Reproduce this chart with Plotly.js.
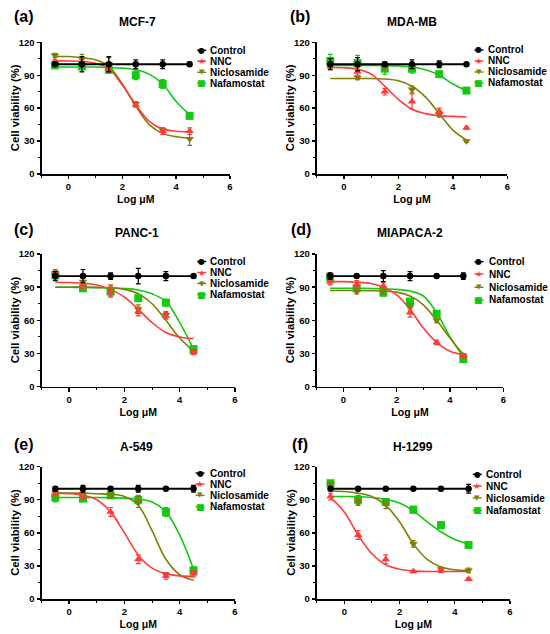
<!DOCTYPE html>
<html>
<head>
<meta charset="utf-8">
<script src="https://cdn.plot.ly/plotly-3.0.1.min.js"></script>
<style>
html,body{margin:0;padding:0;background:#fff;}
#chart{width:550px;height:634px;}
</style>
</head>
<body>
<div id="chart"></div>
<script>
// ---------------- DATA ----------------
const doses = [-0.5, 0.5, 1.5, 2.5, 3.5, 4.5];          // Log µM of measured points
const fitX  = [-0.5, 0, 0.5, 1, 1.5, 2, 2.5, 3, 3.5, 4, 4.5]; // where fitted curves were read
const drugs = ['Control', 'NNC', 'Niclosamide', 'Nafamostat'];
const cellLines = ['MCF-7', 'MDA-MB', 'PANC-1', 'MIAPACA-2', 'A-549', 'H-1299'];
const panelLetters = ['(a)', '(b)', '(c)', '(d)', '(e)', '(f)'];
const xTickVals = [0, 2, 4, 6];
const yTickVals = [0, 30, 60, 90, 120];
const xTitle = 'Log \u03BCM';
const yTitle = 'Cell viability (%)';

// (a) MCF-7
const mcf7Control = [100, 100, 100, 100, 100, 100];
const mcf7ControlErr = [2, 7, 7, 4, 4, 2];
const mcf7NNC = [102, 101, 96, 63, 39, 39];
const mcf7NNCErr = [2, 3, 3, 2, 3, 3];
const mcf7Nic = [108, 105, 100, 64, 40, 32];
const mcf7NicErr = [2, 4, 6, 2, 2, 6];
const mcf7Naf = [99, 98, 95, 90, 82, 53];
const mcf7NafErr = [2, 3, 3, 4, 4, 3];
const mcf7NNCFit = [103, 103, 102.5, 101, 96, 81, 63, 48, 41, 39, 38.5];
const mcf7NicFit = [107, 107, 106, 104, 98, 82, 62, 45, 37, 34, 33];
const mcf7NafFit = [97.5, 97.5, 97.5, 97.5, 97, 96.5, 95, 91, 82, 66, 54];

// (b) MDA-MB
const mdaControl = [100, 100, 100, 100, 100, 100];
const mdaControlErr = [5, 6, 2, 4, 3, 1];
const mdaNNC = [98, 93, 75, 66, 57, 42];
const mdaNNCErr = [3, 4, 3, 7, 3, 1];
const mdaNic = [98, 88, 97, 77, 54, 30];
const mdaNicErr = [2, 2, 2, 3, 2, 1];
const mdaNaf = [103, 101, 96, 96, 91, 76];
const mdaNafErr = [6, 7, 5, 4, 2, 2];
const mdaNNCFit = [97, 96.8, 95.5, 91, 80, 68, 59, 55, 53, 52.5, 52];
const mdaNicFit = [87, 87, 87, 87, 86.5, 85, 80, 70, 55, 40, 31];
const mdaNafFit = [99, 99, 99, 99, 98.8, 98.5, 97.5, 95, 90, 82, 76];

// (c) PANC-1
const pancControl = [100, 100, 100, 100, 100, 100];
const pancControlErr = [4, 6, 3, 7, 4, 1];
const pancNNC = [103, 92, 86, 68, 64, 31];
const pancNNCErr = [3, 3, 5, 4, 3, 2];
const pancNic = [101, 95, 87, 70, 65, 32];
const pancNicErr = [3, 3, 5, 4, 3, 2];
const pancNaf = [101, 89, 86, 80, 76, 34];
const pancNafErr = [4, 2, 4, 2, 3, 2];
const pancNNCFit = [94.5, 94.2, 93.5, 92, 88, 81, 70, 58, 49, 45, 43.5];
const pancNicFit = [90, 90, 90, 89.8, 89.5, 88, 84, 75, 60, 44, 32];
const pancNafFit = [90, 89.9, 89.8, 89.6, 89.3, 88.8, 87.5, 84, 77, 58, 34];

// (d) MIAPACA-2
const miaControl = [100, 100, 100, 100, 100, 100];
const miaControlErr = [3, 1, 5, 4, 1, 3];
const miaNNC = [95, 92, 91, 67, 40, 28];
const miaNNCErr = [3, 4, 3, 4, 2, 2];
const miaNic = [100, 86, 86, 72, 60, 28];
const miaNicErr = [3, 2, 2, 3, 2, 2];
const miaNaf = [99, 89, 85, 77, 66, 25];
const miaNafErr = [3, 2, 3, 2, 2, 2];
const miaNNCFit = [95, 95, 94.5, 93.5, 90, 83, 70, 53, 40, 32, 29];
const miaNicFit = [87, 87, 87, 86.8, 86.5, 85.5, 82, 74, 60, 44, 29];
const miaNafFit = [89, 89, 89, 88.8, 88.6, 88, 86.5, 82, 67, 45, 27];

// (e) A-549
const a549Control = [100, 100, 100, 100, 100, 100];
const a549ControlErr = [2, 3, 2, 3, 1, 3];
const a549NNC = [95, 93, 79, 36, 21, 23];
const a549NNCErr = [3, 2, 4, 4, 3, 3];
const a549Nic = [96, 95, 94, 88, 22, 24];
const a549NicErr = [2, 2, 2, 5, 2, 2];
const a549Naf = [92, 91, 94, 90, 79, 26];
const a549NafErr = [4, 2, 2, 4, 4, 3];
const a549NNCFit = [96, 95.5, 94, 90, 79, 60, 40, 28, 23, 21, 20.5];
const a549NicFit = [96, 96, 96, 95.5, 95, 93, 85, 62, 36, 22, 17];
const a549NafFit = [92, 92, 92, 92, 91.8, 91.5, 90.5, 88, 79, 58, 27];

// (f) H-1299
const h1299Control = [100, 100, 100, 100, 100, 100];
const h1299ControlErr = [1, 1, 1, 1, 1, 4];
const h1299NNC = [93, 58, 36, 25, 26, 18];
const h1299NNCErr = [3, 4, 4, 1, 2, 1];
const h1299Nic = [104, 88, 86, 50, 27, 26];
const h1299NicErr = [2, 3, 4, 3, 2, 2];
const h1299Naf = [105, 90, 88, 81, 67, 49];
const h1299NafErr = [2, 4, 3, 3, 3, 2];
const h1299NNCFit = [92, 79, 58, 41, 31, 27, 25.5, 25, 25, 25, 25];
const h1299NicFit = [98, 97.5, 96, 93, 85, 70, 50, 36, 29, 26.5, 25.5];
const h1299NafFit = [93, 93, 92.8, 92, 90.5, 87, 80, 70, 61, 54, 50];

// --------------- STYLE / LAYOUT ---------------
const W = 550, H = 634;
const FONT = 'Liberation Sans, Arial, sans-serif';
const colors = {Control: '#000000', NNC: '#FF3B3B', Niclosamide: '#7F7F05', Nafamostat: '#14C814'};
const symbols = {Control: 'circle', NNC: 'triangle-up', Niclosamide: 'triangle-down', Nafamostat: 'square'};
const sizes = {Control: 6.5, NNC: 7.5, Niclosamide: 7.5, Nafamostat: 8};
const glyphs = {Control: '\u25CF', NNC: '\u2605', Niclosamide: '\u25BC', Nafamostat: '\u25A0'};
const glyphSize = {Control: 8, NNC: 8.5, Niclosamide: 7, Nafamostat: 9};

const panelData = [
  {ctl: mcf7Control, ctlE: mcf7ControlErr, nnc: mcf7NNC, nncE: mcf7NNCErr, nic: mcf7Nic, nicE: mcf7NicErr, naf: mcf7Naf, nafE: mcf7NafErr, nncF: mcf7NNCFit, nicF: mcf7NicFit, nafF: mcf7NafFit},
  {ctl: mdaControl, ctlE: mdaControlErr, nnc: mdaNNC, nncE: mdaNNCErr, nic: mdaNic, nicE: mdaNicErr, naf: mdaNaf, nafE: mdaNafErr, nncF: mdaNNCFit, nicF: mdaNicFit, nafF: mdaNafFit},
  {ctl: pancControl, ctlE: pancControlErr, nnc: pancNNC, nncE: pancNNCErr, nic: pancNic, nicE: pancNicErr, naf: pancNaf, nafE: pancNafErr, nncF: pancNNCFit, nicF: pancNicFit, nafF: pancNafFit},
  {ctl: miaControl, ctlE: miaControlErr, nnc: miaNNC, nncE: miaNNCErr, nic: miaNic, nicE: miaNicErr, naf: miaNaf, nafE: miaNafErr, nncF: miaNNCFit, nicF: miaNicFit, nafF: miaNafFit},
  {ctl: a549Control, ctlE: a549ControlErr, nnc: a549NNC, nncE: a549NNCErr, nic: a549Nic, nicE: a549NicErr, naf: a549Naf, nafE: a549NafErr, nncF: a549NNCFit, nicF: a549NicFit, nafF: a549NafFit},
  {ctl: h1299Control, ctlE: h1299ControlErr, nnc: h1299NNC, nncE: h1299NNCErr, nic: h1299Nic, nicE: h1299NicErr, naf: h1299Naf, nafE: h1299NafErr, nncF: h1299NNCFit, nicF: h1299NicFit, nafF: h1299NafFit}
];

// panel geometry in pixels (plot area), legend placement, title placement
const panels = [
  {xL: 41.5, xR: 230,   yT: 42.3, yB: 174,   mx: 201.7, tx: 209,   rows: [50.3, 61.3, 72.3, 83.3],   lx: 12,  ly: 16.5, tcx: 137,   tcy: 22,    ytx: 15},
  {xL: 316.7, xR: 507.3, yT: 42.3, yB: 174,  mx: 479,   tx: 486.5, rows: [50, 61, 72, 83],           lx: 287.5, ly: 16.5, tcx: 411.7, tcy: 22,  ytx: 290},
  {xL: 41.5, xR: 235,   yT: 254,  yB: 386.7, mx: 201.7, tx: 209,   rows: [261.5, 272.5, 283.5, 294.5], lx: 12, ly: 229.5, tcx: 136.7, tcy: 233.3, ytx: 15},
  {xL: 316.7, xR: 503.3, yT: 254,  yB: 386.7, mx: 479,  tx: 487.5, rows: [261.7, 274, 287.3, 300],    lx: 289, ly: 229.5, tcx: 410,   tcy: 233.3, ytx: 290},
  {xL: 41.5, xR: 235,   yT: 466.7, yB: 599,  mx: 200,   tx: 209,   rows: [473, 484.2, 495.4, 506.6], lx: 12, ly: 444.5, tcx: 136.7, tcy: 446.7, ytx: 15},
  {xL: 316.7, xR: 510,  yT: 466.7, yB: 599,  mx: 477.3, tx: 485,   rows: [474.3, 486, 498, 510.3],    lx: 290, ly: 444.5, tcx: 413.3, tcy: 446.7, ytx: 291}
];

const traces = [];
const annotations = [];
const shapes = [];
const layout = {
  width: W, height: H,
  margin: {l: 0, r: 0, t: 0, b: 0},
  paper_bgcolor: '#ffffff', plot_bgcolor: '#ffffff',
  showlegend: false,
  font: {family: FONT, color: '#000'},
  annotations: annotations,
  shapes: shapes
};

function px2x(p) { return p / W; }
function px2y(p) { return 1 - p / H; }

panels.forEach(function (pn, i) {
  const n = i + 1;
  const xa = n === 1 ? 'x' : 'x' + n;
  const ya = n === 1 ? 'y' : 'y' + n;
  const d = panelData[i];
  const axisCommon = {
    showline: true, linecolor: '#000', linewidth: 1.5,
    ticks: 'outside', ticklen: 3.5, tickwidth: 1.4, tickcolor: '#000',
    showgrid: false, zeroline: false, fixedrange: true,
    tickfont: {family: FONT, size: 9.5, weight: 700, color: '#000'}
  };
  layout[n === 1 ? 'xaxis' : 'xaxis' + n] = Object.assign({}, axisCommon, {
    domain: [px2x(pn.xL), px2x(pn.xR)],
    range: [-1, 6], anchor: ya,
    tickmode: 'array', tickvals: xTickVals,
    minor: {dtick: 1, tick0: 0, ticks: 'outside', ticklen: 2.2, tickwidth: 1.1, tickcolor: '#000'},
    title: {text: xTitle, font: {family: FONT, size: 10.5, weight: 700}, standoff: 4}
  });
  layout[n === 1 ? 'yaxis' : 'yaxis' + n] = Object.assign({}, axisCommon, {
    domain: [px2y(pn.yB), px2y(pn.yT)],
    range: [0, 120], anchor: xa,
    tickmode: 'array', tickvals: yTickVals,
    minor: {dtick: 15, tick0: 0, ticks: 'outside', ticklen: 2.2, tickwidth: 1.1, tickcolor: '#000'}
  });
  // y axis title (placed as rotated text to sit where the reference has it)
  annotations.push({
    xref: 'paper', yref: 'paper', x: px2x(pn.ytx), y: px2y((pn.yT + pn.yB) / 2),
    xanchor: 'center', yanchor: 'middle', showarrow: false, textangle: -90,
    text: yTitle, font: {family: FONT, size: 11.3, weight: 700, color: '#000'}
  });

  // fitted curves
  const fits = [['Nafamostat', d.nafF], ['Niclosamide', d.nicF], ['NNC', d.nncF]];
  fits.forEach(function (f) {
    traces.push({
      type: 'scatter', mode: 'lines', x: fitX, y: f[1], xaxis: xa, yaxis: ya,
      line: {color: colors[f[0]], width: 1.6, shape: 'spline', smoothing: 1},
      hoverinfo: 'skip', showlegend: false, cliponaxis: false
    });
  });
  // measured points with error bars
  const pts = [['Nafamostat', d.naf, d.nafE], ['Niclosamide', d.nic, d.nicE], ['NNC', d.nnc, d.nncE], ['Control', d.ctl, d.ctlE]];
  pts.forEach(function (p) {
    const isCtl = p[0] === 'Control';
    traces.push({
      type: 'scatter', mode: isCtl ? 'lines+markers' : 'markers',
      x: doses, y: p[1], xaxis: xa, yaxis: ya, name: p[0],
      line: {color: colors[p[0]], width: 1.8},
      marker: {symbol: symbols[p[0]], size: sizes[p[0]], color: colors[p[0]], line: {width: 0}},
      error_y: {type: 'data', array: p[2], visible: true, color: colors[p[0]], thickness: 1.2, width: 2.4},
      showlegend: false, cliponaxis: false
    });
  });

  // panel letter and title
  annotations.push({
    xref: 'paper', yref: 'paper', x: px2x(pn.lx), y: px2y(pn.ly),
    xanchor: 'left', yanchor: 'middle', showarrow: false,
    text: panelLetters[i], font: {family: FONT, size: 16, weight: 700, color: '#000'}
  });
  annotations.push({
    xref: 'paper', yref: 'paper', x: px2x(pn.tcx), y: px2y(pn.tcy),
    xanchor: 'center', yanchor: 'middle', showarrow: false,
    text: cellLines[i], font: {family: FONT, size: 12, weight: 700, color: '#000'}
  });

  // legend (drawn as text rows with symbol glyphs)
  drugs.forEach(function (dg, k) {
    const yy = pn.rows[k];
    shapes.push({
      type: 'line', xref: 'paper', yref: 'paper',
      x0: px2x(pn.mx - 4.5), x1: px2x(pn.mx + 4.5), y0: px2y(yy), y1: px2y(yy),
      line: {color: colors[dg], width: 1.4}
    });
    annotations.push({
      xref: 'paper', yref: 'paper', x: px2x(pn.mx), y: px2y(yy),
      xanchor: 'center', yanchor: 'middle', showarrow: false, borderpad: 0,
      text: glyphs[dg], font: {family: 'DejaVu Sans', size: glyphSize[dg], color: colors[dg]}
    });
    annotations.push({
      xref: 'paper', yref: 'paper', x: px2x(pn.tx), y: px2y(yy),
      xanchor: 'left', yanchor: 'middle', showarrow: false, borderpad: 0,
      text: dg, font: {family: FONT, size: 10, weight: 700, color: '#000'}
    });
  });
});

Plotly.newPlot('chart', traces, layout, {staticPlot: true, displayModeBar: false});
</script>
</body>
</html>
